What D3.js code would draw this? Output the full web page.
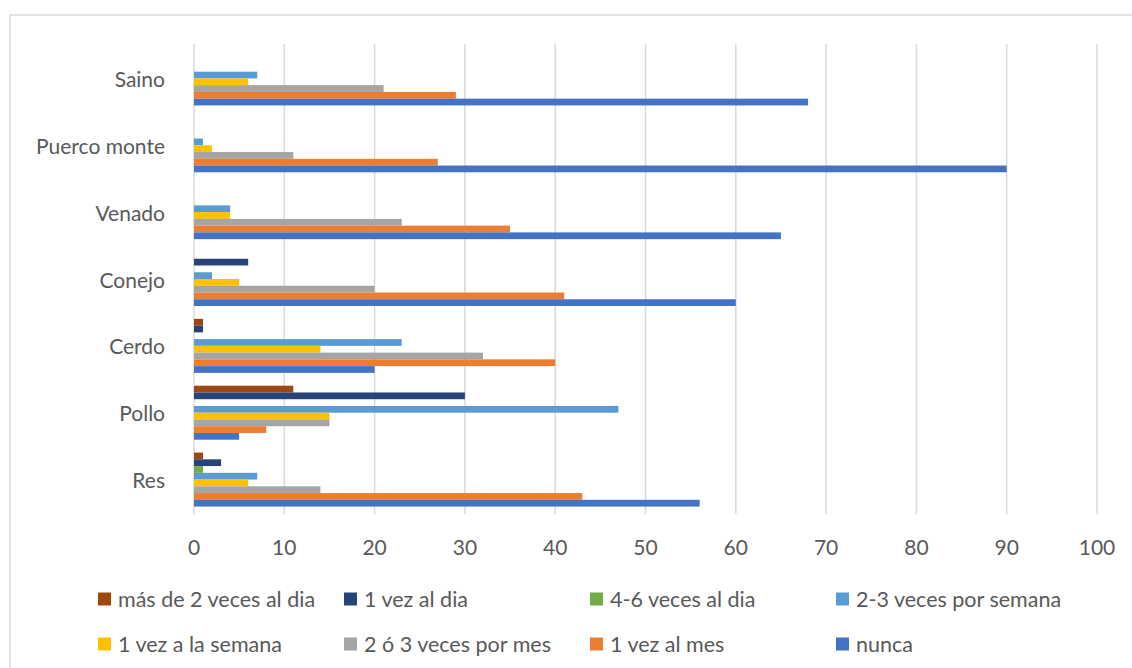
<!DOCTYPE html>
<html>
<head>
<meta charset="utf-8">
<script src="https://cdn.jsdelivr.net/npm/d3@7"></script>
<style>
  body { margin: 0; background: #fff; }
  text { font-family: Lato, "Open Sans", sans-serif; fill: #595959; }
</style>
</head>
<body>
<div class="container"></div>
<script>
// categories, top to bottom as drawn
const categories = ['Saino', 'Puerco monte', 'Venado', 'Conejo', 'Cerdo', 'Pollo', 'Res'];

// series, top to bottom inside each group
const seriesNames = ['más de 2 veces al dia', '1 vez al dia', '4-6 veces al dia', '2-3 veces por semana',
  '1 vez a la semana', '2 ó 3 veces por mes', '1 vez al mes', 'nunca'];
const seriesColors = ['#9E480E', '#264478', '#70AD47', '#5B9BD5', '#FFC000', '#A5A5A5', '#ED7D31', '#4472C4'];

// values per series, in the categories order
const masDe2 = [0, 0, 0, 0, 1, 11, 1];
const unaVezDia = [0, 0, 0, 6, 1, 30, 3];
const cuatroSeisDia = [0, 0, 0, 0, 0, 0, 1];
const dosTresSemana = [7, 1, 4, 2, 23, 47, 7];
const unaVezSemana = [6, 2, 4, 5, 14, 15, 6];
const dosTresMes = [21, 11, 23, 20, 32, 15, 14];
const unaVezMes = [29, 27, 35, 41, 40, 8, 43];
const nunca = [68, 90, 65, 60, 20, 5, 56];

const seriesValues = [masDe2, unaVezDia, cuatroSeisDia, dosTresSemana, unaVezSemana, dosTresMes, unaVezMes, nunca];

const xTicks = [0, 10, 20, 30, 40, 50, 60, 70, 80, 90, 100];

var display = function () {
  var svg = d3.select('.container').append('svg')
    .attr('width', 1132)
    .attr('height', 668);

  // chart frame
  svg.append('rect')
    .attr('x', 10).attr('y', 15)
    .attr('width', 1140).attr('height', 700)
    .style('fill', 'none')
    .attr('stroke', '#d9d9d9')
    .attr('stroke-width', 1.5);

  var x = d3.scaleLinear().domain([0, 100]).range([194, 1097]);
  var y = d3.scaleBand().domain(categories).range([45, 513]);
  var groupH = 54;
  var inner = d3.scaleBand().domain(seriesNames)
    .range([(y.bandwidth() - groupH) / 2, (y.bandwidth() + groupH) / 2]);

  // gridlines
  svg.append('g').selectAll('line')
    .data(xTicks)
    .join('line')
    .attr('x1', d => x(d)).attr('x2', d => x(d))
    .attr('y1', 44).attr('y2', 514)
    .attr('stroke', '#d9d9d9')
    .attr('stroke-width', 1.5);

  // x tick labels
  svg.append('g').selectAll('text')
    .data(xTicks)
    .join('text')
    .attr('x', d => x(d))
    .attr('y', 546)
    .attr('text-anchor', 'middle')
    .attr('dominant-baseline', 'central')
    .style('font-size', '21px')
    .text(d => d);

  // category labels
  svg.append('g').selectAll('text')
    .data(categories)
    .join('text')
    .attr('x', 165)
    .attr('y', d => y(d) + y.bandwidth() / 2)
    .attr('text-anchor', 'end')
    .attr('dominant-baseline', 'central')
    .style('font-size', '21px')
    .text(d => d);

  // bars
  seriesNames.forEach(function (name, si) {
    svg.append('g').selectAll('rect')
      .data(seriesValues[si].map((v, ci) => ({ cat: categories[ci], v: v })))
      .join('rect')
      .attr('x', x(0))
      .attr('y', d => y(d.cat) + inner(name))
      .attr('width', d => x(d.v) - x(0))
      .attr('height', inner.bandwidth())
      .style('fill', seriesColors[si]);
  });

  // legend
  var legend = svg.append('g').selectAll('g')
    .data(seriesNames)
    .join('g')
    .attr('transform', (d, i) => 'translate(' + (98 + (i % 4) * 246) + ',' + (i < 4 ? 599 : 644) + ')');
  legend.append('rect')
    .attr('x', 0).attr('y', -6.5)
    .attr('width', 13).attr('height', 13)
    .style('fill', (d, i) => seriesColors[i]);
  legend.append('text')
    .attr('x', 20).attr('y', 0)
    .attr('dominant-baseline', 'central')
    .style('font-size', '21.5px')
    .text(d => d);
}

window.onload = display;
</script>
</body>
</html>
